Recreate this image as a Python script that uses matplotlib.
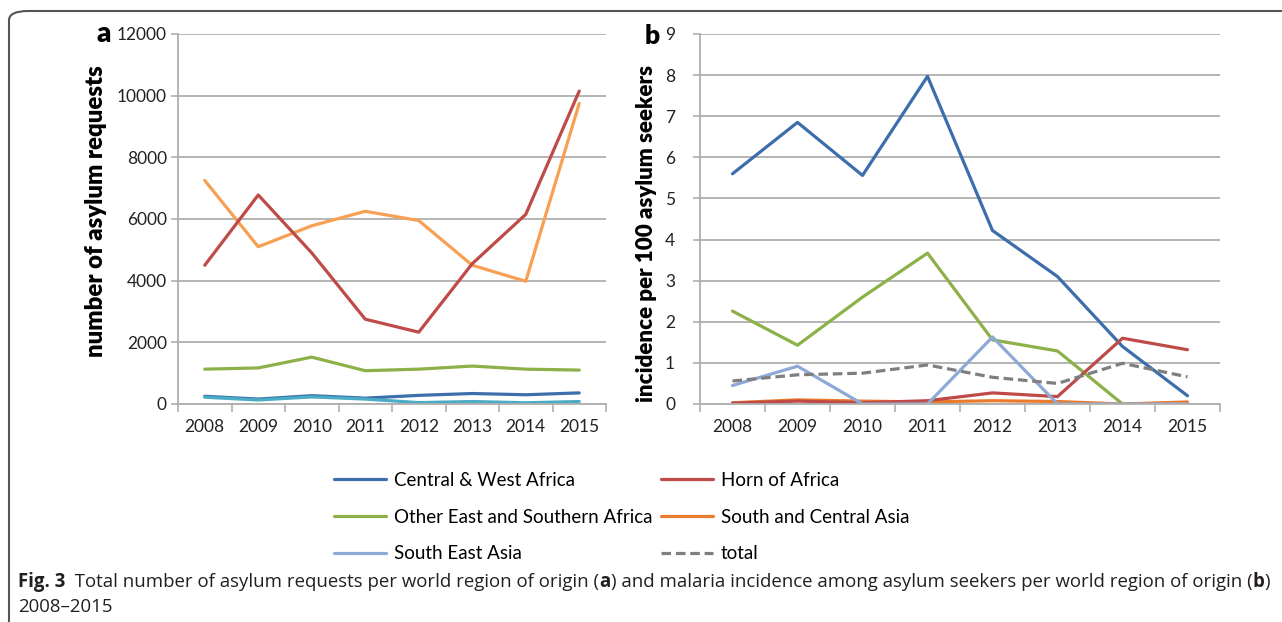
import matplotlib
matplotlib.use("Agg")
from matplotlib import pyplot as plt
from matplotlib.patches import FancyBboxPatch

plt.rcParams['font.family'] = ['Lato', 'DejaVu Sans']

years = ["2008", "2009", "2010", "2011", "2012", "2013", "2014", "2015"]

# panel a: number of asylum requests
req_central_west = [250, 160, 270, 190, 280, 340, 300, 360]
req_horn = [4500, 6780, 4900, 2750, 2330, 4550, 6150, 10150]
req_other_east = [1130, 1170, 1520, 1080, 1130, 1230, 1130, 1100]
req_south_central = [7250, 5100, 5780, 6250, 5950, 4500, 3980, 9750]
req_south_east = [220, 130, 230, 160, 45, 80, 40, 80]

# panel b: incidence per 100 asylum seekers
inc_central_west = [5.6, 6.85, 5.56, 7.97, 4.22, 3.1, 1.4, 0.2]
inc_horn = [0.02, 0.07, 0.03, 0.08, 0.27, 0.18, 1.6, 1.32]
inc_other_east = [2.26, 1.43, 2.6, 3.67, 1.56, 1.29, 0.0, 0.0]
inc_south_central = [0.03, 0.1, 0.07, 0.05, 0.08, 0.06, 0.0, 0.05]
inc_south_east = [0.45, 0.92, 0.0, 0.0, 1.63, 0.0, 0.0, 0.0]
inc_total = [0.56, 0.71, 0.75, 0.95, 0.65, 0.5, 0.99, 0.66]

labels = ["Central & West Africa", "Horn of Africa", "Other East and Southern Africa",
          "South and Central Asia", "South East Asia", "total"]

# caption pieces (text, bold)
caption = [("Fig. 3", True),
           ("  Total number of asylum requests per world region of origin (", False),
           ("a", True),
           (") and malaria incidence among asylum seekers per world region of origin (", False),
           ("b", True),
           (")", False)]
caption2 = "2008–2015"

BLUE = "#3C6EAB"
RED = "#BE4B48"
GREEN = "#8DB048"
ORANGE_B = "#EA7A2C"
LBLUE = "#8EA9D6"
GREY = "#7F7F7F"
ORANGE_A = "#F7A053"
CYAN = "#4BACC6"
GRID = "#AFAFAF"
TXT = "#231F20"

W, H = 1282, 622
fig = plt.figure(figsize=(W / 100, H / 100), dpi=100)


def px(x0, y0, x1, y1):
    return [x0 / W, 1 - y1 / H, (x1 - x0) / W, (y1 - y0) / H]


def style_axis(ax, ymax, ystep, ypad):
    x = range(len(years))
    ax.set_xlim(-0.5, len(years) - 0.5)
    ax.set_ylim(0, ymax)
    ax.set_xticks(list(x))
    ax.set_xticklabels(years)
    ax.set_xticks([i - 0.5 for i in range(len(years) + 1)], minor=True)
    ax.tick_params(axis='x', which='major', length=0, pad=11, labelsize=12.5, colors='#222222')
    ax.tick_params(axis='x', which='minor', length=6, width=1.2, color=GRID)
    ax.tick_params(axis='y', length=5, width=1.2, color=GRID, pad=ypad, labelsize=12.5,
                   labelcolor='#222222')
    ax.set_yticks([i * ystep for i in range(int(round(ymax / ystep)) + 1)])
    ax.grid(axis='y', color=GRID, lw=1.3)
    ax.set_axisbelow(True)
    for s in ['top', 'right']:
        ax.spines[s].set_visible(False)
    for s in ['left', 'bottom']:
        ax.spines[s].set_color(GRID)
        ax.spines[s].set_linewidth(1.3)


lw = 2.3
xa = range(len(years))

# panel a
axa = fig.add_axes(px(178, 34, 606, 404))
axa.plot(xa, req_central_west, color=BLUE, lw=lw, solid_capstyle='round')
axa.plot(xa, req_south_east, color=CYAN, lw=lw, solid_capstyle='round')
axa.plot(xa, req_other_east, color=GREEN, lw=lw, solid_capstyle='round')
axa.plot(xa, req_south_central, color=ORANGE_A, lw=lw, solid_capstyle='round')
axa.plot(xa, req_horn, color=RED, lw=lw, solid_capstyle='round')
style_axis(axa, 12000, 2000, 3.0)
axa.set_ylabel("number of asylum requests", fontsize=17.3, fontweight='heavy')
axa.yaxis.set_label_coords(-0.166, 0.52)

# panel b
axb = fig.add_axes(px(700, 34, 1220, 404))
h_cw, = axb.plot(xa, inc_central_west, color=BLUE, lw=lw, solid_capstyle='round')
h_oe, = axb.plot(xa, inc_other_east, color=GREEN, lw=lw, solid_capstyle='round')
h_sc, = axb.plot(xa, inc_south_central, color=ORANGE_B, lw=lw, solid_capstyle='round')
h_ho, = axb.plot(xa, inc_horn, color=RED, lw=lw, solid_capstyle='round')
h_se, = axb.plot(xa, inc_south_east, color=LBLUE, lw=lw, solid_capstyle='round')
h_to, = axb.plot(xa, inc_total, color=GREY, lw=lw, ls=(0, (3, 1.5)))
style_axis(axb, 9, 1, 13)
axb.set_ylabel("incidence per 100 asylum seekers", fontsize=16.1, fontweight='heavy')
axb.yaxis.set_label_coords(-0.083, 0.46)

fig.text(104 / W, 1 - 34 / H, "a", fontsize=20, fontweight='heavy', ha='center', va='center')
fig.text(652 / W, 1 - 36 / H, "b", fontsize=19, fontweight='heavy', ha='center', va='center')

handles = [h_cw, h_oe, h_se, h_ho, h_sc, h_to]
hl = [labels[0], labels[2], labels[4], labels[1], labels[3], labels[5]]
fig.legend(handles, hl, ncol=2, loc='upper left', bbox_to_anchor=(334 / W, 1 - 472 / H),
           frameon=False, fontsize=13.5, handlelength=2.77, handletextpad=0.43,
           columnspacing=0.45, labelspacing=1.05, borderpad=0, borderaxespad=0)

# caption, drawn piece by piece so the bold parts line up
renderer = fig.canvas.get_renderer()
cx = 18 / W
for s, bold in caption:
    t = fig.text(cx, 1 - 587 / H, s, fontsize=13.45, family='Open Sans', color=TXT,
                 fontweight='bold' if bold else 'normal', va='baseline', ha='left')
    cx += t.get_window_extent(renderer).width / W
fig.text(18 / W, 1 - 612 / H, caption2, fontsize=13.45, family='Open Sans', color=TXT,
         va='baseline', ha='left')

frame = FancyBboxPatch((9 / W, -0.1), 1.2, 1 - 11 / H + 0.1,
                       boxstyle="round,pad=0,rounding_size=0.015",
                       transform=fig.transFigure, fill=False, ec='#555555', lw=1.5)
fig.patches.append(frame)

fig.savefig("out.png", dpi=100)
